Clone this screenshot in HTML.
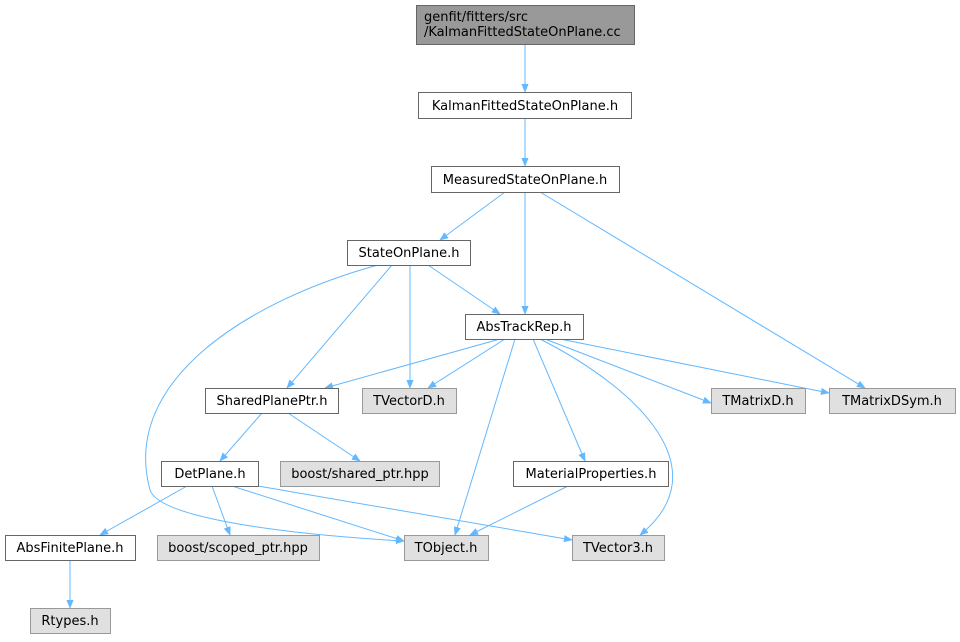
<!DOCTYPE html>
<html><head><meta charset="utf-8"><style>
html,body{margin:0;padding:0;background:#fff;}
svg text{font-family:"DejaVu Sans","Liberation Sans",sans-serif;font-size:13px;fill:#000;}
</style></head><body>
<svg width="960" height="637" viewBox="0 0 960 637" xmlns="http://www.w3.org/2000/svg">
<defs><marker id="a" viewBox="0 0 10 10" refX="9" refY="5" markerWidth="9" markerHeight="9" orient="auto" markerUnits="userSpaceOnUse"><path d="M0,1 L10,5 L0,9 z" fill="#63b8ff"/></marker></defs>
<g stroke="#63b8ff" stroke-width="1" fill="none" marker-end="url(#a)">
<path d="M525,44 L525,92"/>
<path d="M525,118 L525,166"/>
<path d="M505,192 L440,240"/>
<path d="M525,192 L525,314"/>
<path d="M540,192 L865,388"/>
<path d="M428,265 L500,314"/>
<path d="M410,265 L410,388"/>
<path d="M392,265 L287,388"/>
<path d="M378,265 C250,300 120,380 150,490 C160,520 300,535 404,541"/>
<path d="M500,339 L325,388"/>
<path d="M505,339 L428,388"/>
<path d="M515,339 L455,535"/>
<path d="M533,339 L585,461"/>
<path d="M545,339 L711,403"/>
<path d="M560,339 L829,393"/>
<path d="M540,339 C640,390 720,470 640,535"/>
<path d="M262,413 L220,461"/>
<path d="M288,413 L360,461"/>
<path d="M187,486 L100,535"/>
<path d="M212,486 L230,535"/>
<path d="M232,486 L404,541"/>
<path d="M258,486 L572,540"/>
<path d="M568,486 L470,535"/>
<path d="M70,560 L70,608"/>
</g>
<g stroke-width="1">
<rect x="416.5" y="5.5" width="218" height="39" fill="#999" stroke="#666"/>
<rect x="418.5" y="92.5" width="213" height="26" fill="#fff" stroke="#666"/>
<rect x="431.5" y="166.5" width="188" height="26" fill="#fff" stroke="#666"/>
<rect x="347.5" y="240.5" width="123" height="25" fill="#fff" stroke="#666"/>
<rect x="465.5" y="314.5" width="118" height="25" fill="#fff" stroke="#666"/>
<rect x="205.5" y="388.5" width="133" height="25" fill="#fff" stroke="#666"/>
<rect x="362.5" y="388.5" width="94" height="25" fill="#e0e0e0" stroke="#999"/>
<rect x="711.5" y="388.5" width="94" height="25" fill="#e0e0e0" stroke="#999"/>
<rect x="829.5" y="388.5" width="126" height="25" fill="#e0e0e0" stroke="#999"/>
<rect x="161.5" y="461.5" width="97" height="25" fill="#fff" stroke="#666"/>
<rect x="280.5" y="461.5" width="159" height="25" fill="#e0e0e0" stroke="#999"/>
<rect x="513.5" y="461.5" width="155" height="25" fill="#fff" stroke="#666"/>
<rect x="5.5" y="535.5" width="130" height="25" fill="#fff" stroke="#666"/>
<rect x="157.5" y="535.5" width="162" height="25" fill="#e0e0e0" stroke="#999"/>
<rect x="404.5" y="535.5" width="84" height="25" fill="#e0e0e0" stroke="#999"/>
<rect x="572.5" y="535.5" width="92" height="25" fill="#e0e0e0" stroke="#999"/>
<rect x="30.5" y="608.5" width="80" height="25" fill="#e0e0e0" stroke="#999"/>
</g>
<g>
<text x="424" y="21">genfit/fitters/src</text>
<text x="424" y="36">/KalmanFittedStateOnPlane.cc</text>
<text x="525" y="110" text-anchor="middle">KalmanFittedStateOnPlane.h</text>
<text x="525" y="184" text-anchor="middle">MeasuredStateOnPlane.h</text>
<text x="409" y="257" text-anchor="middle">StateOnPlane.h</text>
<text x="524" y="331" text-anchor="middle">AbsTrackRep.h</text>
<text x="272" y="405" text-anchor="middle">SharedPlanePtr.h</text>
<text x="409" y="405" text-anchor="middle">TVectorD.h</text>
<text x="758" y="405" text-anchor="middle">TMatrixD.h</text>
<text x="892" y="405" text-anchor="middle">TMatrixDSym.h</text>
<text x="210" y="478" text-anchor="middle">DetPlane.h</text>
<text x="360" y="478" text-anchor="middle">boost/shared_ptr.hpp</text>
<text x="591" y="478" text-anchor="middle">MaterialProperties.h</text>
<text x="70" y="552" text-anchor="middle">AbsFinitePlane.h</text>
<text x="238" y="552" text-anchor="middle">boost/scoped_ptr.hpp</text>
<text x="446" y="552" text-anchor="middle">TObject.h</text>
<text x="618" y="552" text-anchor="middle">TVector3.h</text>
<text x="70" y="625" text-anchor="middle">Rtypes.h</text>
</g>
</svg>
</body></html>
